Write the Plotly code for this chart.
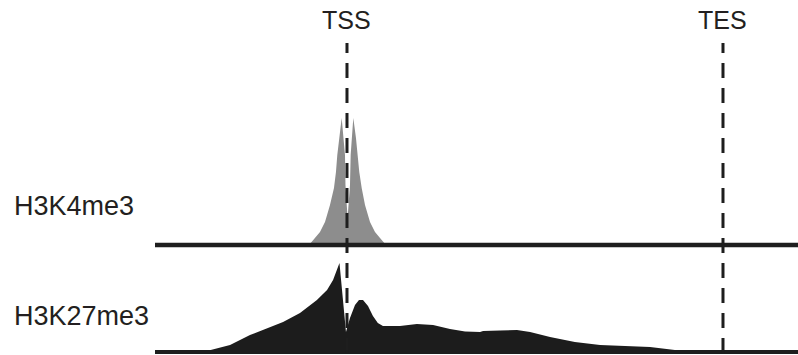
import plotly.graph_objects as go

# Positions in arbitrary gene units (TSS = 0, TES = 10)
tss_pos = 0.0
tes_pos = 10.0
marker_labels = ["TSS", "TES"]
track_labels = ["H3K4me3", "H3K27me3"]

# H3K4me3 profile (sharp bimodal peak around the TSS)
k4_x = [-1.01, -0.939, -0.851, -0.718, -0.585, -0.452, -0.346, -0.293, -0.258, -0.205, -0.141,
        -0.053, -0.040, 0.016, 0.080, 0.098,
        0.168, 0.239, 0.285, 0.327, 0.391, 0.479, 0.612, 0.745, 0.878, 0.957, 1.037]
k4_y = [0.0, 0.022, 0.052, 0.096, 0.170, 0.296, 0.422, 0.541, 0.667, 0.793, 0.941,
        0.667, 0.444, 0.2, 0.444, 0.667,
        0.941, 0.793, 0.667, 0.541, 0.422, 0.296, 0.170, 0.096, 0.052, 0.022, 0.0]

# H3K27me3 profile (broad domain)
k27_x = [-3.83, -3.11, -2.58, -1.70, -1.25, -0.80, -0.53, -0.37, -0.27, -0.20,
         -0.027, 0.08, 0.213, 0.319, 0.426, 0.559, 0.69, 0.82, 0.957,
         1.41, 1.86, 2.29, 2.74, 3.14, 3.54, 3.62, 4.07, 4.52, 4.87, 5.40,
         6.06, 6.73, 8.06, 8.59, 8.94, 9.12]
k27_y = [0.0, 0.072, 0.175, 0.309, 0.402, 0.536, 0.639, 0.742, 0.845, 0.918,
         0.206, 0.35, 0.485, 0.536, 0.536, 0.474, 0.371, 0.299, 0.268,
         0.268, 0.289, 0.278, 0.237, 0.211, 0.206, 0.216, 0.222, 0.227, 0.206, 0.155,
         0.103, 0.072, 0.052, 0.031, 0.01, 0.0]

H = 355.0
def py(p):
    return (H - p) / H

PAD = 0.03  # small negative range so the baseline is not clipped

fig = go.Figure()
fig.add_trace(go.Scatter(x=k4_x, y=k4_y, mode="lines", fill="tozeroy",
                         line=dict(width=0, color="#8d8d8d"), fillcolor="#8d8d8d",
                         xaxis="x", yaxis="y", hoverinfo="skip"))
fig.add_trace(go.Scatter(x=k27_x, y=k27_y, mode="lines", fill="tozeroy",
                         line=dict(width=0, color="#1c1c1c"), fillcolor="#1c1c1c",
                         xaxis="x", yaxis="y2", hoverinfo="skip"))

shapes = []
# baselines
shapes.append(dict(type="line", xref="paper", yref="y", x0=0, x1=1, y0=0, y1=0,
                   line=dict(color="#1e1e1e", width=4.5)))
shapes.append(dict(type="line", xref="paper", yref="y2", x0=0, x1=1, y0=0, y1=0,
                   line=dict(color="#1e1e1e", width=4)))
# dashed markers
for xp in [tss_pos, tes_pos]:
    shapes.append(dict(type="line", xref="x", yref="paper", x0=xp, x1=xp,
                       y0=py(353), y1=py(43),
                       line=dict(color="#1e1e1e", width=3, dash="15px,10px")))

font_family = "Liberation Sans, Arial, sans-serif"
annotations = []
for lab, xp in zip(marker_labels, [tss_pos, tes_pos]):
    annotations.append(dict(text=lab, x=xp, y=py(20), xref="x", yref="paper",
                            showarrow=False, xanchor="center", yanchor="middle",
                            font=dict(family=font_family, size=25, color="#231f20")))
for lab, yy in zip(track_labels, [206, 316]):
    annotations.append(dict(text=lab, x=(12 - 155) / 643.0, y=py(yy), xref="paper", yref="paper",
                            showarrow=False, xanchor="left", yanchor="middle",
                            font=dict(family=font_family, size=27, color="#231f20")))

top_base, top_px = 245.0, 135.0
bot_base, bot_px = 352.0, 97.0

fig.update_layout(
    width=798, height=355,
    margin=dict(l=155, r=0, t=0, b=0),
    paper_bgcolor="white", plot_bgcolor="rgba(0,0,0,0)",
    showlegend=False,
    xaxis=dict(range=[-5.106, 11.995], visible=False, fixedrange=True),
    yaxis=dict(domain=[py(top_base + PAD * top_px), py(top_base - top_px)],
               range=[-PAD, 1], visible=False, fixedrange=True),
    yaxis2=dict(domain=[py(bot_base + PAD * bot_px), py(bot_base - bot_px)],
                range=[-PAD, 1], visible=False, fixedrange=True),
    shapes=shapes, annotations=annotations,
)

fig.write_html("out.html", config={"displayModeBar": False},
               post_script="document.body.style.margin='0px';document.body.style.overflow='hidden';")
